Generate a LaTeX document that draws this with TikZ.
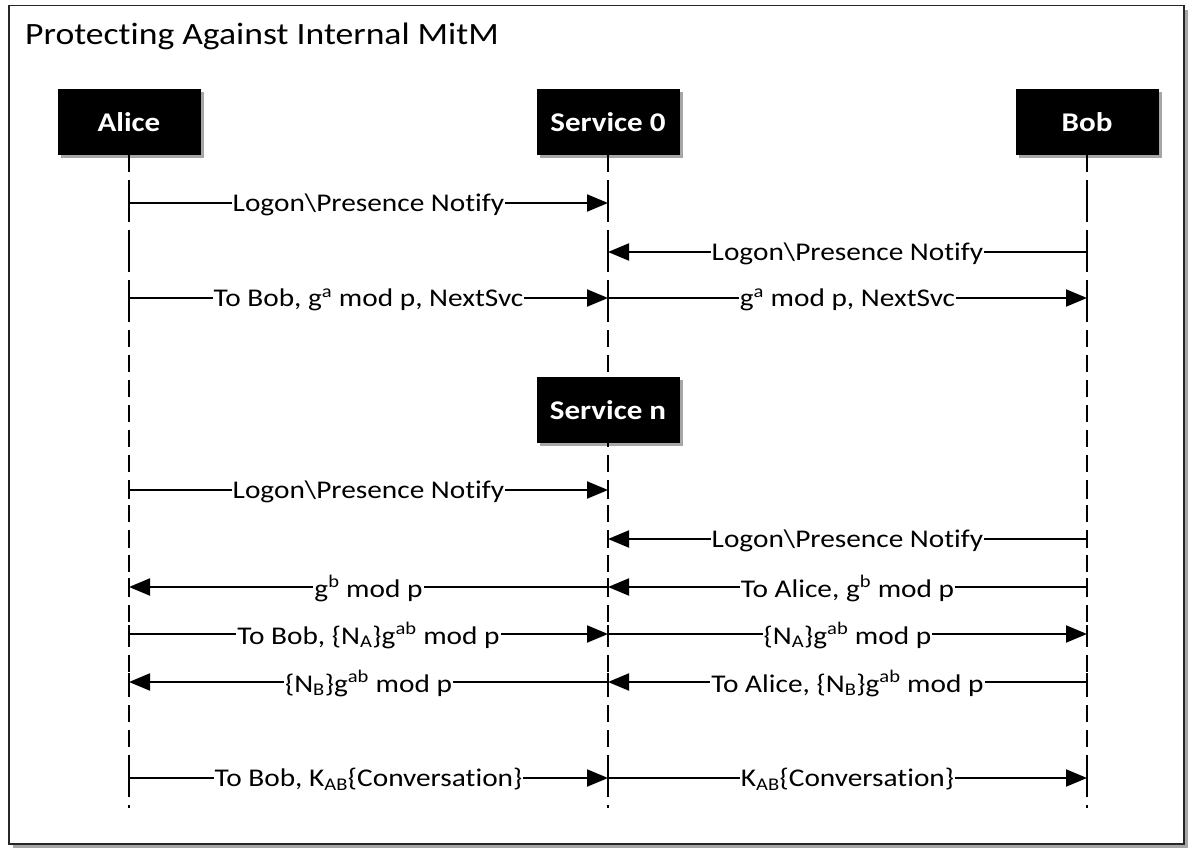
\documentclass[tikz,border=0pt]{standalone}
\usepackage{fontspec}
\setmainfont{Carlito}[FakeStretch=1.15,Ligatures=NoCommon]
\usetikzlibrary{arrows.meta,shadows}
\begin{document}
\begin{tikzpicture}[x=1pt,y=-1pt,
  actor/.style={fill=black,text=white,font=\fontsize{27}{30}\selectfont\bfseries,
    minimum width=143pt,minimum height=66pt,inner sep=0pt,
    drop shadow={shadow xshift=3pt,shadow yshift=-3pt,opacity=0.35,fill=black}},
  lifeline/.style={line width=1.6pt,dash pattern=on 17pt off 8pt},
  msg/.style={line width=2pt,-{Triangle[length=21pt,width=17pt]}},
  lbl/.style={fill=white,inner sep=1pt,yshift=-1.5pt,font=\fontsize{25.5}{30}\selectfont}]
\useasboundingbox (0,0) rectangle (1194,858);
\node[draw=black!85,line width=1.5pt,minimum width=1175pt,minimum height=838pt,anchor=north west,
  drop shadow={shadow xshift=4pt,shadow yshift=-4pt,opacity=0.35,fill=black},fill=white] (frame) at (8,5) {};
\node[anchor=base west,inner sep=0pt,font=\fontsize{31}{34}\selectfont] (title) at (25,45) {Protecting Against Internal MitM};
% actors
\node[actor] (alice) at (129,122) {Alice};
\node[actor] (s0) at (608,122) {Service 0};
\node[actor] (bob) at (1087,122) {Bob};
\coordinate (aend) at (129,808);
\coordinate (send) at (608,808);
\coordinate (bend) at (1087,808);
\draw[lifeline] (alice.south) -- (aend);
\draw[lifeline] (s0.south) -- (send);
\draw[lifeline] (bob.south) -- (bend);
\node[actor,minimum height=65pt] (sn) at (608,410) {Service n};
% row coordinates
\foreach \r/\y in {1/203,2/252,3/298,4/490,5/539,6/587,7/634,8/682,9/778}{
  \coordinate (A\r) at (129,\y);
  \coordinate (S\r) at (608,\y);
  \coordinate (B\r) at (1087,\y);
}
\tikzset{tick/.style={line width=1.6pt}}
% messages
\draw[msg] (A1) -- node[lbl]{Logon\textbackslash Presence Notify} (S1);
\draw[msg] (B2) -- node[lbl]{Logon\textbackslash Presence Notify} (S2);
\draw[msg] (A3) -- node[lbl]{To Bob, g\textsuperscript{a} mod p, NextSvc} (S3);
\draw[msg] (S3) -- node[lbl]{g\textsuperscript{a} mod p, NextSvc} (B3);
\draw[msg] (A4) -- node[lbl]{Logon\textbackslash Presence Notify} (S4);
\draw[msg] (B5) -- node[lbl]{Logon\textbackslash Presence Notify} (S5);
\draw[msg] (S6) -- node[lbl]{g\textsuperscript{b} mod p} (A6);
\draw[msg] (B6) -- node[lbl]{To Alice, g\textsuperscript{b} mod p} (S6);
\draw[msg] (A7) -- node[lbl]{To Bob, \{N\textsubscript{A}\}g\textsuperscript{ab} mod p} (S7);
\draw[msg] (S7) -- node[lbl]{\{N\textsubscript{A}\}g\textsuperscript{ab} mod p} (B7);
\draw[msg] (S8) -- node[lbl]{\{N\textsubscript{B}\}g\textsuperscript{ab} mod p} (A8);
\draw[msg] (B8) -- node[lbl]{To Alice, \{N\textsubscript{B}\}g\textsuperscript{ab} mod p} (S8);
\draw[msg] (A9) -- node[lbl]{To Bob, K\textsubscript{AB}\{Conversation\}} (S9);
\draw[msg] (S9) -- node[lbl]{K\textsubscript{AB}\{Conversation\}} (B9);
% solid ticks on lifelines at message rows
\foreach \r in {1,...,9}{
  \draw[tick] ([yshift=-9pt]A\r) -- ([yshift=9pt]A\r);
  \draw[tick] ([yshift=-9pt]S\r) -- ([yshift=9pt]S\r);
  \draw[tick] ([yshift=-9pt]B\r) -- ([yshift=9pt]B\r);
}
\end{tikzpicture}
\end{document}
